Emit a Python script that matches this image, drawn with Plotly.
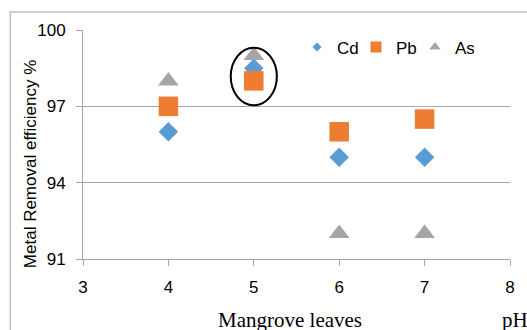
import plotly.graph_objects as go

ph = [4, 5, 6, 7]
cd = [96.0, 98.5, 95.0, 95.0]
pb = [97.0, 98.0, 96.0, 96.5]
as_ = [98.0, 99.0, 92.0, 92.0]
x_ticks = [3, 4, 5, 6, 7, 8]
y_ticks = [91, 94, 97, 100]
names = ["Cd", "Pb", "As"]
colors = ["#5B9BD5", "#ED7D31", "#A5A5A5"]
symbols = ["diamond", "square", "triangle-up"]

W, H = 527, 330
L, R, T, B = 83, 15, 29.5, 70.5
pw, ph_ = W - L - R, H - T - B


def px(xp):
    return (xp - L) / pw


def py(yp):
    return 1 - (yp - T) / ph_


fig = go.Figure()
sizes = [15, 19.5, 18]
for name, ys, col, sym, sz in zip(names, [cd, pb, as_], colors, symbols, sizes):
    fig.add_trace(go.Scatter(x=ph, y=ys, mode="markers", name=name, showlegend=False,
                             marker=dict(symbol=sym, size=sz, color=col)))
# legend entries (small symbols as in the reference legend)
leg_sizes = [7, 11, 10]
for name, col, sym, sz in zip(names, colors, symbols, leg_sizes):
    fig.add_trace(go.Scatter(x=[None], y=[None], mode="markers", name=name,
                             marker=dict(symbol=sym, size=sz, color=col)))

# highlight ellipse around pH 5 group
fig.add_shape(type="circle", xref="x", yref="y",
              x0=ph[1] - 0.27, x1=ph[1] + 0.27, y0=97.04, y1=99.3,
              line=dict(color="black", width=2))
# outer chart border
fig.add_shape(type="rect", xref="paper", yref="paper",
              x0=px(10), x1=px(540), y0=py(11.5), y1=py(345),
              line=dict(color="#BFBFBF", width=1.5), layer="below")

fig.add_annotation(text="Mangrove leaves", xref="paper", yref="paper",
                   x=px(291), y=py(321), xanchor="center", yanchor="middle",
                   showarrow=False,
                   font=dict(family="Liberation Serif", size=21, color="black"))
fig.add_annotation(text="pH", xref="paper", yref="paper",
                   x=px(502), y=py(321), xanchor="left", yanchor="middle",
                   showarrow=False,
                   font=dict(family="Liberation Serif", size=21, color="black"))
fig.add_annotation(text="Metal Removal efficiency %", xref="paper", yref="paper",
                   x=px(31), y=py(164), xanchor="center", yanchor="middle",
                   textangle=-90, showarrow=False,
                   font=dict(family="Liberation Sans", size=17, color="black"))

fig.update_layout(
    width=W, height=H,
    margin=dict(l=L, r=R, t=T, b=B),
    paper_bgcolor="white", plot_bgcolor="white",
    font=dict(family="Liberation Sans", size=17, color="black"),
    showlegend=True,
    legend=dict(orientation="h", x=px(298), y=py(29), xanchor="left", yanchor="top",
                bgcolor="rgba(0,0,0,0)", font=dict(size=17), itemsizing="trace",
                entrywidth=14, tracegroupgap=0),
    xaxis=dict(range=[3, 8], tickvals=x_ticks, showgrid=False, zeroline=False,
               showline=True, linecolor="#A6A6A6", linewidth=1,
               ticks="outside", ticklen=6, tickcolor="#A6A6A6",
               ticklabelstandoff=7, tickfont=dict(size=17)),
    yaxis=dict(range=[91, 100], tickvals=y_ticks, showgrid=True, gridcolor="#A6A6A6",
               gridwidth=1, zeroline=False, showline=True, linecolor="#A6A6A6",
               linewidth=1, ticks="outside", ticklen=6, tickcolor="#A6A6A6",
               ticklabelstandoff=7, tickfont=dict(size=17)),
)

fig.write_html("out.html")
